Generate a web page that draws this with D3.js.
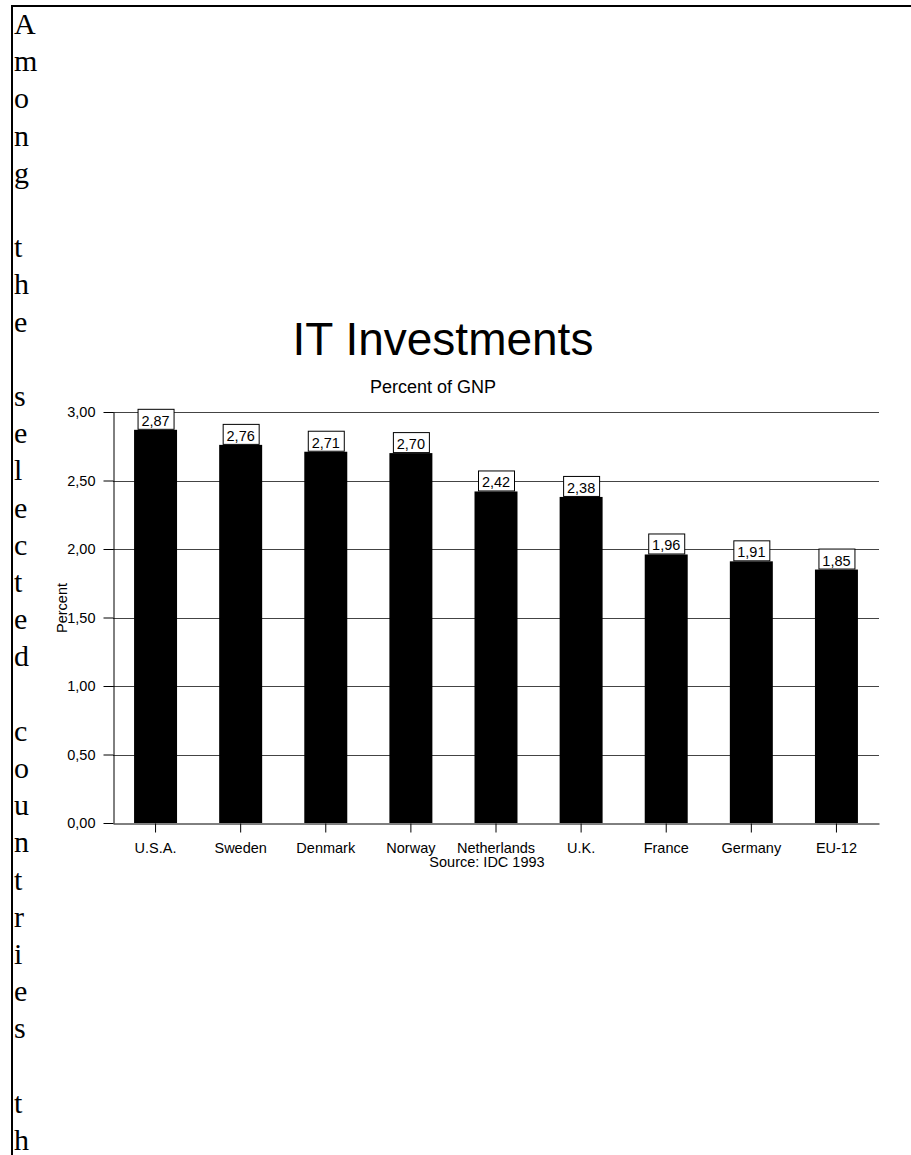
<!DOCTYPE html>
<html>
<head>
<meta charset="utf-8">
<script src="https://cdn.jsdelivr.net/npm/d3@7"></script>
<style>
  html, body { margin: 0; padding: 0; background: #fff; }
  svg { display: block; }
</style>
</head>
<body>
<svg id="chart" width="911" height="1155"></svg>
<script>
// IT investments as a share of GNP, by country
const countries = ["U.S.A.", "Sweden", "Denmark", "Norway", "Netherlands", "U.K.", "France", "Germany", "EU-12"];
const percentOfGNP = [2.87, 2.76, 2.71, 2.70, 2.42, 2.38, 1.96, 1.91, 1.85];
const yTicks = [0, 0.5, 1, 1.5, 2, 2.5, 3];
const sideText = "Among the selected countries th";

const svg = d3.select("#chart");
const fmt = v => d3.format(".2f")(v).replace(".", ",");
const sans = "'Liberation Sans', Arial, sans-serif";

// page frame: table-like border on the top and left
svg.append("line").attr("x1", 11).attr("x2", 911).attr("y1", 6).attr("y2", 6)
  .attr("stroke", "#000").attr("stroke-width", 2);
svg.append("line").attr("x1", 12).attr("x2", 12).attr("y1", 5).attr("y2", 1155)
  .attr("stroke", "#000").attr("stroke-width", 2);

// narrow text column, one character per line
svg.append("g").selectAll("text")
  .data(Array.from(sideText))
  .join("text")
  .attr("x", 14)
  .attr("y", (d, i) => 34 + i * 37.2)
  .attr("font-family", "'Liberation Serif', 'Times New Roman', serif")
  .attr("font-size", 30)
  .attr("fill", "#000")
  .text(d => d === " " ? "" : d);

// scales
const plot = { left: 113, right: 879, top: 412, bottom: 823 };
const x = d3.scaleBand().domain(countries).range([plot.left, plot.right]).paddingInner(0.495).paddingOuter(0.2475);
const y = d3.scaleLinear().domain([0, 3]).range([plot.bottom, plot.top]);

// titles
svg.append("text").attr("x", 443).attr("y", 355).attr("text-anchor", "middle")
  .attr("font-family", sans).attr("font-size", 46).text("IT Investments");
svg.append("text").attr("x", 433).attr("y", 393).attr("text-anchor", "middle")
  .attr("font-family", sans).attr("font-size", 18).text("Percent of GNP");

// horizontal gridlines
svg.append("g").selectAll("line")
  .data(yTicks.filter(t => t > 0))
  .join("line")
  .attr("x1", plot.left).attr("x2", plot.right)
  .attr("y1", d => Math.round(y(d)) + 0.5).attr("y2", d => Math.round(y(d)) + 0.5)
  .attr("stroke", "#444").attr("stroke-width", 1);

// bars
svg.append("g").selectAll("rect")
  .data(countries)
  .join("rect")
  .attr("x", d => x(d))
  .attr("width", x.bandwidth())
  .attr("y", (d, i) => y(percentOfGNP[i]))
  .attr("height", (d, i) => y(0) - y(percentOfGNP[i]))
  .attr("fill", "#000");

// y axis
const yAxis = svg.append("g").attr("transform", `translate(${plot.left + 0.5},0)`)
  .call(d3.axisLeft(y).tickValues(yTicks).tickFormat(fmt).tickSizeInner(10).tickSizeOuter(0).tickPadding(8));
yAxis.select(".domain").attr("stroke", "#000");
yAxis.selectAll(".tick line").attr("stroke", "#000");
yAxis.selectAll("text").attr("font-family", sans).attr("font-size", 14.5).attr("fill", "#000");

// x axis
const xAxis = svg.append("g").attr("transform", `translate(0,${plot.bottom + 0.5})`)
  .call(d3.axisBottom(x).tickSizeInner(9).tickSizeOuter(0).tickPadding(10));
xAxis.select(".domain").attr("stroke", "#000");
xAxis.selectAll(".tick line").attr("stroke", "#000");
xAxis.selectAll("text").attr("font-family", sans).attr("font-size", 14.5).attr("fill", "#000");

// axis title and source note
svg.append("text")
  .attr("transform", "translate(67,608) rotate(-90)")
  .attr("text-anchor", "middle")
  .attr("font-family", sans).attr("font-size", 14.5).text("Percent");
svg.append("text").attr("x", 487).attr("y", 867).attr("text-anchor", "middle")
  .attr("font-family", sans).attr("font-size", 14.5).text("Source: IDC 1993");

// value labels in boxes sitting on the bar tops
const labels = svg.append("g").selectAll("g")
  .data(countries)
  .join("g")
  .attr("transform", (d, i) => `translate(${x(d) + x.bandwidth() / 2},${y(percentOfGNP[i])})`);
labels.each(function (d, i) {
  const g = d3.select(this);
  const t = g.append("text")
    .attr("text-anchor", "middle").attr("y", -4)
    .attr("font-family", sans).attr("font-size", 14.5)
    .text(fmt(percentOfGNP[i]));
  const w = t.node().getComputedTextLength() + 8;
  g.insert("rect", "text")
    .attr("x", Math.round(-w / 2) + 0.5).attr("y", -20.5)
    .attr("width", Math.round(w)).attr("height", 20)
    .attr("fill", "#fff").attr("stroke", "#000").attr("stroke-width", 1);
});
</script>
</body>
</html>
